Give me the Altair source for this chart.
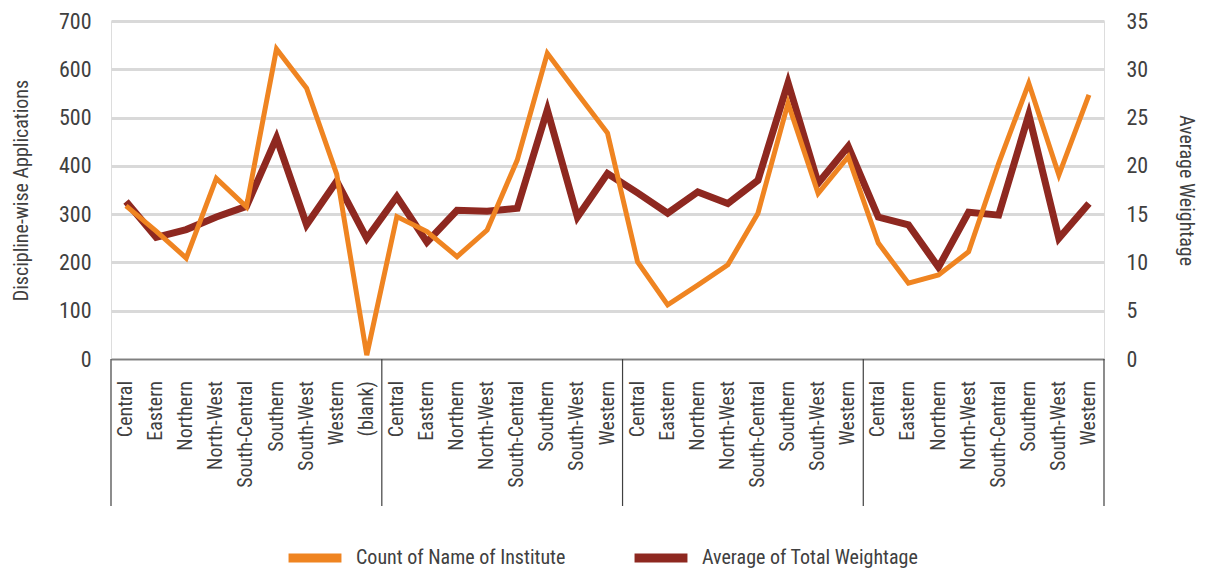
import altair as alt
import pandas as pd

group_sizes = [9, 8, 8, 8]
regions_g1 = ["Central", "Eastern", "Northern", "North-West", "South-Central",
              "Southern", "South-West", "Western", "(blank)"]
regions = ["Central", "Eastern", "Northern", "North-West", "South-Central",
           "Southern", "South-West", "Western"]
labels = regions_g1 + regions + regions + regions

count_inst = [317, 265, 209, 374, 315, 642, 561, 383, 8,
              295, 264, 212, 267, 412, 633, 550, 468,
              201, 112, 153, 195, 302, 530, 343, 419,
              240, 157, 174, 222, 405, 571, 381, 547]
avg_weight = [16.3, 12.6, 13.4, 14.7, 15.8, 22.9, 13.9, 18.4, 12.5,
              16.8, 12.1, 15.4, 15.3, 15.6, 25.8, 14.7, 19.2,
              17.2, 15.1, 17.3, 16.1, 18.5, 28.6, 18.2, 22.0,
              14.7, 13.9, 9.5, 15.2, 14.9, 25.3, 12.5, 16.1]

series_names = ["Count of Name of Institute", "Average of  Total Weightage"]
series_colors = ["#EF8421", "#8E2820"]

n = len(labels)
df = pd.DataFrame({"idx": list(range(n)), "label": labels,
                   "count": count_inst, "avg": avg_weight})

bounds = [-0.5]
acc = 0
for g in group_sizes:
    acc += g
    bounds.append(acc - 0.5)
sep_df = pd.DataFrame({"b": bounds})

FONT = "'Roboto Condensed', 'DejaVu Sans Condensed', 'Liberation Sans Narrow', Roboto, sans-serif"
TXT = "#404040"
W, H = 993, 338

xscale = alt.Scale(domain=[-0.5, n - 0.5], nice=False, zero=False)
xenc = alt.X("idx:Q", scale=xscale,
             axis=alt.Axis(labels=False, ticks=False, grid=False, title=None,
                           domainColor="#7f7f7f", domainWidth=1.5))

color_scale = alt.Scale(domain=series_names, range=series_colors)

red = alt.Chart(df).transform_calculate(series="'%s'" % series_names[1]).mark_line(
    strokeWidth=7, strokeJoin="miter", strokeCap="butt").encode(
    x=xenc,
    y=alt.Y("avg:Q", scale=alt.Scale(domain=[0, 35], nice=False),
            axis=alt.Axis(orient="right", values=[0, 5, 10, 15, 20, 25, 30, 35], grid=False,
                          domain=False, ticks=False, labelFontSize=22, labelColor=TXT,
                          labelFont=FONT, labelPadding=22, title="Average Weightage",
                          titleFont=FONT, titleFontSize=20, titleFontWeight="normal",
                          titleColor=TXT, titlePadding=28)),
    color=alt.Color("series:N", scale=color_scale,
                    legend=alt.Legend(orient="none", legendX=173, legendY=506,
                                      direction="horizontal", title=None,
                                      symbolType="stroke", symbolStrokeWidth=9,
                                      symbolSize=2800, labelFontSize=20, labelFont=FONT,
                                      labelColor=TXT, labelOffset=10, columnPadding=50,
                                      labelLimit=400)),
)

orange = alt.Chart(df).transform_calculate(series="'%s'" % series_names[0]).mark_line(
    strokeWidth=5, strokeJoin="miter", strokeCap="butt").encode(
    x=xenc,
    y=alt.Y("count:Q", scale=alt.Scale(domain=[0, 700], nice=False),
            axis=alt.Axis(orient="left", values=[0, 100, 200, 300, 400, 500, 600, 700],
                          grid=True, gridColor="#d9d9d9", gridWidth=3, domain=False,
                          ticks=False, labelFontSize=22, labelColor=TXT, labelFont=FONT,
                          labelPadding=20, title="Discipline-wise Applications",
                          titleFont=FONT, titleFontSize=20, titleFontWeight="normal",
                          titleColor=TXT, titlePadding=27)),
    color=alt.Color("series:N", scale=color_scale),
)

xlabels = alt.Chart(df).mark_text(angle=270, align="right", baseline="middle",
                                  font=FONT, fontSize=20, color=TXT).encode(
    x=alt.X("idx:Q", scale=xscale),
    y=alt.value(H + 22),
    text="label:N",
)

seps = alt.Chart(sep_df).mark_rule(color="#404040", strokeWidth=1.2).encode(
    x=alt.X("b:Q", scale=xscale),
    y=alt.value(H), y2=alt.value(H + 147),
)

chart = alt.layer(red, orange, seps, xlabels).resolve_scale(y="independent").properties(
    width=W, height=H,
    autosize=alt.AutoSizeParams(type="none"),
    padding={"left": 103, "top": 13, "right": 94, "bottom": 210},
).configure_view(stroke=None).configure(background="white")

chart.save("out.html", embed_options={"renderer": "svg", "actions": False})
